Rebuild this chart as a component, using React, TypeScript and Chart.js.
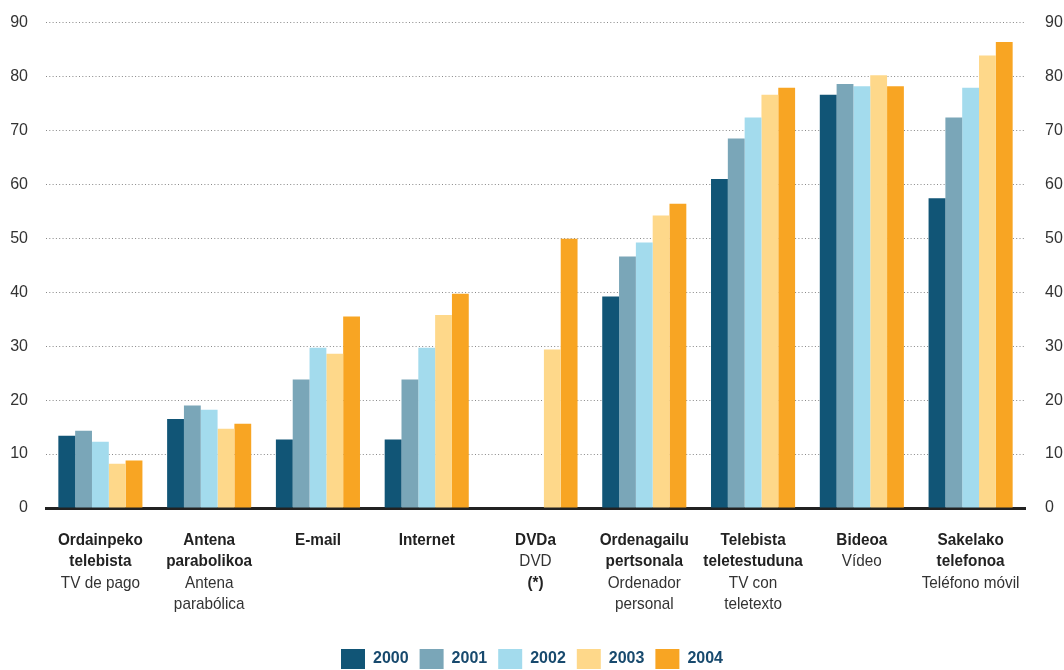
import React, { useEffect, useRef } from "react";
import { Chart, registerables } from "chart.js";

Chart.register(...registerables);

const boldLines: string[][] = [
  ["Ordainpeko", "telebista"],
  ["Antena", "parabolikoa"],
  ["E-mail"],
  ["Internet"],
  ["DVDa"],
  ["Ordenagailu", "pertsonala"],
  ["Telebista", "teletestuduna"],
  ["Bideoa"],
  ["Sakelako", "telefonoa"],
];
const regularLines: string[][] = [
  ["TV de pago"],
  ["Antena", "parabólica"],
  [],
  [],
  ["DVD"],
  ["Ordenador", "personal"],
  ["TV con", "teletexto"],
  ["Vídeo"],
  ["Teléfono móvil"],
];
const noteLines: string[] = ["", "", "", "", "(*)", "", "", "", ""];

const years = ["2000", "2001", "2002", "2003", "2004"];
const s2000 = [13.4, 16.5, 12.7, 12.7, null, 39.2, 61.0, 76.6, 57.4];
const s2001 = [14.3, 19.0, 23.8, 23.8, null, 46.6, 68.5, 78.6, 72.4];
const s2002 = [12.3, 18.2, 29.7, 29.7, null, 49.2, 72.4, 78.2, 77.9];
const s2003 = [8.2, 14.7, 28.6, 35.8, 29.4, 54.2, 76.6, 80.2, 83.9];
const s2004 = [8.8, 15.6, 35.5, 39.7, 49.9, 56.4, 77.9, 78.2, 86.4];
const colors = ["#115576", "#7aa6b8", "#a3dbed", "#fed88a", "#f8a523"];

const FONT = "'Liberation Sans', Arial, sans-serif";

const xLabelPlugin = {
  id: "xLabelPlugin",
  afterDraw(chart: any) {
    const ctx = chart.ctx;
    const xs = chart.scales.x;
    const top = chart.chartArea.bottom + 32;
    const lh = 21.5;
    const draw = (t: string, x: number, y: number) => {
      ctx.save();
      ctx.translate(x, y);
      ctx.scale(0.9, 1);
      ctx.fillText(t, 0, 0);
      ctx.restore();
    };
    ctx.save();
    ctx.textAlign = "center";
    ctx.textBaseline = "middle";
    boldLines.forEach((bl, i) => {
      const x = xs.getPixelForValue(i);
      let y = top;
      ctx.font = `bold 17px ${FONT}`;
      ctx.fillStyle = "#222";
      bl.forEach((t) => {
        draw(t, x, y);
        y += lh;
      });
      ctx.font = `17px ${FONT}`;
      ctx.fillStyle = "#333";
      regularLines[i].forEach((t) => {
        draw(t, x, y);
        y += lh;
      });
      if (noteLines[i]) {
        ctx.font = `bold 17px ${FONT}`;
        ctx.fillStyle = "#222";
        draw(noteLines[i], x, y);
      }
    });
    ctx.restore();
  },
};

export default function App() {
  const ref = useRef<HTMLCanvasElement>(null);
  useEffect(() => {
    document.body.style.margin = "0";
    const series = [s2000, s2001, s2002, s2003, s2004];
    const chart = new Chart(ref.current!, {
      type: "bar",
      data: {
        labels: boldLines.map((l) => l.join(" ")),
        datasets: years.map((y, i) => ({
          label: y,
          data: series[i],
          backgroundColor: colors[i],
          borderWidth: 0,
          categoryPercentage: 0.773,
          barPercentage: 1.0,
        })),
      },
      options: {
        responsive: false,
        animation: false,
        layout: { padding: { top: 22.5, bottom: -9, left: 0, right: 0 } },
        plugins: {
          tooltip: { enabled: false },
          legend: {
            position: "bottom",
            labels: {
              boxWidth: 24,
              boxHeight: 20,
              padding: 11,
              color: "#184a6e",
              font: { family: FONT, size: 16, weight: "bold" },
            },
          },
        },
        scales: {
          x: {
            z: 1,
            ticks: { display: false },
            grid: { display: false },
            border: { display: true, color: "#222", width: 3 },
            afterFit: (s: any) => {
              s.height = 130;
            },
          },
          y: {
            min: 0,
            max: 90,
            position: "left",
            ticks: { stepSize: 10, padding: 18, color: "#333", font: { family: FONT, size: 16 } },
            grid: { color: "#888", lineWidth: 1, drawTicks: false },
            border: { display: false, dash: [1, 2.3] },
            afterFit: (s: any) => {
              s.width = 46;
              s.paddingTop = 0;
              s.paddingBottom = 0;
            },
          },
          y2: {
            min: 0,
            max: 90,
            position: "right",
            ticks: { stepSize: 10, padding: 20, color: "#333", font: { family: FONT, size: 16 } },
            grid: { display: false, drawTicks: false },
            border: { display: false },
            afterFit: (s: any) => {
              s.width = 39;
              s.paddingTop = 0;
              s.paddingBottom = 0;
            },
          },
        },
      },
      plugins: [xLabelPlugin],
    });
    return () => chart.destroy();
  }, []);
  return <canvas ref={ref} width={1064} height={670} style={{ display: "block" }} />;
}
